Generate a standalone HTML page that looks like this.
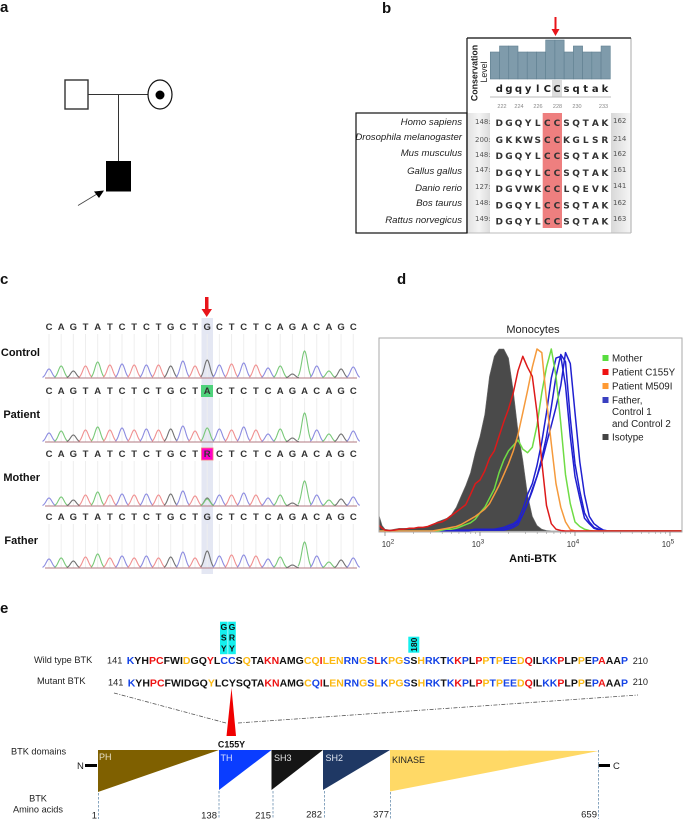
<!DOCTYPE html>
<html lang="en">
<head>
<meta charset="utf-8">
<title>BTK figure</title>
<style>
html,body{margin:0;padding:0;background:#fff;}
svg{display:block;font-family:"Liberation Sans",Arial,sans-serif;filter:blur(0.3px);}
.panel{font-size:15px;font-weight:700;fill:#111;}
.sp{font-size:9.6px;font-style:italic;text-anchor:end;fill:#222;}
.aa{font-family:"DejaVu Sans",sans-serif;font-size:9px;font-weight:700;fill:#333;text-anchor:middle;}
.num{font-family:"DejaVu Sans",sans-serif;font-size:7px;fill:#555;}
.base{font-size:9.5px;font-weight:700;fill:#333;text-anchor:middle;}
.row-label{font-size:11px;font-weight:700;fill:#111;text-anchor:end;}
.leg{font-size:9.8px;fill:#222;}
.seq{font-size:10.5px;font-weight:700;}
.b{fill:#1443e6;}.r{fill:#ee1111;}.y{fill:#fcb912;}.k{fill:#111;}
.lab{font-size:9.2px;fill:#222;}
.dom{font-size:9px;}
.tick-aa{font-size:9.5px;fill:#222;text-anchor:end;}
</style>
</head>
<body>
<svg id="fig" xmlns="http://www.w3.org/2000/svg" width="683" height="819" viewBox="0 0 683 819">
<rect x="0" y="0" width="683" height="819" fill="#fff"/>

<!-- Panel a -->
<text class="panel" x="0" y="12">a</text>
<g>
  <line x1="88" y1="94.5" x2="148" y2="94.5" stroke="#333" stroke-width="1"/>
  <line x1="118.5" y1="94.5" x2="118.5" y2="161" stroke="#333" stroke-width="1"/>
  <rect x="65" y="80" width="23" height="29" fill="#fff" stroke="#333" stroke-width="1.4"/>
  <ellipse cx="160" cy="94.5" rx="12" ry="14.5" fill="#fff" stroke="#111" stroke-width="1.2"/>
  <circle cx="160" cy="95" r="4.5" fill="#000"/>
  <rect x="106" y="161" width="25" height="30.5" fill="#000"/>
  <line x1="78" y1="205.5" x2="97" y2="194" stroke="#444" stroke-width="0.8"/>
  <polygon points="104,190.5 94,191.5 99,198" fill="#000"/>
</g>

<!-- Panel b -->
<text class="panel" x="382" y="13">b</text>
<g>
  <defs>
    <linearGradient id="bandL" x1="0" x2="1" y1="0" y2="0"><stop offset="0" stop-color="#e2e2e2"/><stop offset="0.5" stop-color="#f4f4f4"/><stop offset="1" stop-color="#dcdcdc"/></linearGradient>
    <linearGradient id="bandR" x1="0" x2="1" y1="0" y2="0"><stop offset="0" stop-color="#d8d8d8"/><stop offset="1" stop-color="#f6f6f6"/></linearGradient>
  </defs>
  <rect x="468" y="113" width="22" height="120" fill="url(#bandL)"/>
  <rect x="611" y="113" width="20" height="120" fill="url(#bandR)"/>
  <rect x="552" y="80" width="10" height="17" fill="#dcdcdc"/>
  <rect x="542.7" y="113" width="19.3" height="115" fill="#ee7f7f"/>
  <g id="conservationBars"></g>
  <text font-size="8.8" fill="#222" font-weight="700" text-anchor="middle" transform="translate(477.5 73) rotate(-90)">Conservation</text>
  <text font-size="8.8" fill="#222" text-anchor="middle" transform="translate(487 72) rotate(-90)">Level</text>
  <text font-family="DejaVu Sans" font-size="10" font-weight="700" fill="#222" text-anchor="middle" x="499.3 508.9 518.5 528.1 537.7 547.3 556.9 566.5 576.1 585.7 595.3 604.9" y="92">dgqylCCsqtak</text>
  <line x1="490" y1="97" x2="611" y2="97" stroke="#bbb" stroke-width="1"/>
  <g font-size="5.5" fill="#888" text-anchor="middle">
    <text x="502" y="108">222</text><text x="519" y="108">224</text><text x="538" y="108">226</text><text x="557.5" y="108">228</text><text x="577" y="108">230</text><text x="603.5" y="108">233</text>
  </g>
  <g>
    <text class="sp" x="462" y="125">Homo sapiens</text>
    <text class="sp" x="462" y="140">Drosophila melanogaster</text>
    <text class="sp" x="462" y="156">Mus musculus</text>
    <text class="sp" x="462" y="174">Gallus gallus</text>
    <text class="sp" x="462" y="191">Danio rerio</text>
    <text class="sp" x="462" y="206">Bos taurus</text>
    <text class="sp" x="462" y="223">Rattus norvegicus</text>
  </g>
  <g>
    <text class="num" x="475" y="124">148:</text><text class="num" x="475" y="142">200:</text><text class="num" x="475" y="157">148:</text><text class="num" x="475" y="172">147:</text><text class="num" x="475" y="189">127:</text><text class="num" x="475" y="205">148:</text><text class="num" x="475" y="221">149:</text>
  </g>
  <g>
    <text class="num" x="613" y="123">162</text><text class="num" x="613" y="141">214</text><text class="num" x="613" y="156">162</text><text class="num" x="613" y="172">161</text><text class="num" x="613" y="188">141</text><text class="num" x="613" y="205">162</text><text class="num" x="613" y="221">163</text>
  </g>
  <g>
    <text class="aa" y="126" x="499.3 508.9 518.5 528.1 537.7 547.3 556.9 566.5 576.1 585.7 595.3 604.9">DGQYLCCSQTAK</text>
    <text class="aa" y="143" x="499.3 508.9 518.5 528.1 537.7 547.3 556.9 566.5 576.1 585.7 595.3 604.9">GKKWSCCKGLSR</text>
    <text class="aa" y="159" x="499.3 508.9 518.5 528.1 537.7 547.3 556.9 566.5 576.1 585.7 595.3 604.9">DGQYLCCSQTAK</text>
    <text class="aa" y="176" x="499.3 508.9 518.5 528.1 537.7 547.3 556.9 566.5 576.1 585.7 595.3 604.9">DGQYLCCSQTAK</text>
    <text class="aa" y="192" x="499.3 508.9 518.5 528.1 537.7 547.3 556.9 566.5 576.1 585.7 595.3 604.9">DGVWKCCLQEVK</text>
    <text class="aa" y="208.5" x="499.3 508.9 518.5 528.1 537.7 547.3 556.9 566.5 576.1 585.7 595.3 604.9">DGQYLCCSQTAK</text>
    <text class="aa" y="224.5" x="499.3 508.9 518.5 528.1 537.7 547.3 556.9 566.5 576.1 585.7 595.3 604.9">DGQYLCCSQTAK</text>
  </g>
  <line x1="631" y1="38" x2="631" y2="233" stroke="#aaa" stroke-width="1"/>
  <line x1="467" y1="233" x2="631" y2="233" stroke="#bbb" stroke-width="1"/>
  <line x1="467" y1="38" x2="631" y2="38" stroke="#333" stroke-width="1.5"/>
  <line x1="467" y1="38" x2="467" y2="233" stroke="#222" stroke-width="1.3"/>
  <rect x="356" y="113" width="111" height="120" fill="none" stroke="#111" stroke-width="1.2"/>
  <polygon points="554.5,17 556.5,17 556.5,29 559.5,29 555.5,36 551.5,29 554.5,29" fill="#e8141a"/>
</g>

<!-- Panel c -->
<text class="panel" x="0" y="284">c</text>
<g>
  <rect x="201.5" y="318" width="11.5" height="256" fill="#e4e7f3"/>
  <rect x="201" y="385" width="12" height="12" fill="#4fd27c"/>
  <rect x="201.5" y="448" width="11.5" height="12" fill="#ff00c8" stroke="#f77" stroke-width="0.8"/>
  <g id="traces"></g>
  <text class="row-label" x="40" y="356">Control</text>
  <text class="row-label" x="40" y="418">Patient</text>
  <text class="row-label" x="40" y="481">Mother</text>
  <text class="row-label" x="38" y="544">Father</text>
  <text class="base" y="330" x="49 61.2 73.3 85.5 97.7 109.9 122 134.2 146.4 158.5 170.7 182.9 195.1 207.2 219.4 231.6 243.7 255.9 268.1 280.2 292.4 304.6 316.7 328.9 341.1 353.3">CAGTATCTCTGCTGCTCTCAGACAGC</text>
  <text class="base" y="394" x="49 61.2 73.3 85.5 97.7 109.9 122 134.2 146.4 158.5 170.7 182.9 195.1 207.2 219.4 231.6 243.7 255.9 268.1 280.2 292.4 304.6 316.7 328.9 341.1 353.3">CAGTATCTCTGCTACTCTCAGACAGC</text>
  <text class="base" y="457" x="49 61.2 73.3 85.5 97.7 109.9 122 134.2 146.4 158.5 170.7 182.9 195.1 207.2 219.4 231.6 243.7 255.9 268.1 280.2 292.4 304.6 316.7 328.9 341.1 353.3">CAGTATCTCTGCTRCTCTCAGACAGC</text>
  <text class="base" y="520" x="49 61.2 73.3 85.5 97.7 109.9 122 134.2 146.4 158.5 170.7 182.9 195.1 207.2 219.4 231.6 243.7 255.9 268.1 280.2 292.4 304.6 316.7 328.9 341.1 353.3">CAGTATCTCTGCTGCTCTCAGACAGC</text>
  <polygon points="205,297 208.5,297 208.5,309 212,309 206.7,317 201.5,309 205,309" fill="#e8141a"/>
</g>

<!-- Panel d -->
<text class="panel" x="397" y="284">d</text>
<g>
  <text x="533" y="333" font-size="11" fill="#222" text-anchor="middle">Monocytes</text>
  <clipPath id="plotClip"><rect x="379" y="338" width="303" height="194"/></clipPath>
  <g id="histogram" clip-path="url(#plotClip)"></g>
  <rect x="379" y="338" width="303" height="194" fill="none" stroke="#aaa" stroke-width="1"/>
  <g id="histTicks"></g>
  <text x="533" y="562" font-size="11" font-weight="700" fill="#111" text-anchor="middle">Anti-BTK</text>
  <g>
    <rect x="602.5" y="355" width="6" height="6" fill="#58dd3f"/>
    <text class="leg" x="612" y="361.5">Mother</text>
    <rect x="602.5" y="369" width="6" height="6" fill="#ee1111"/>
    <text class="leg" x="612" y="375.5">Patient C155Y</text>
    <rect x="602.5" y="383" width="6" height="6" fill="#ff9a33"/>
    <text class="leg" x="612" y="389.5">Patient M509I</text>
    <rect x="602.5" y="397" width="6" height="6" fill="#3a3fc0"/>
    <text class="leg" x="612" y="403.5">Father,</text>
    <text class="leg" x="612" y="415">Control 1</text>
    <text class="leg" x="612" y="427">and Control 2</text>
    <rect x="602.5" y="434" width="6" height="6" fill="#444"/>
    <text class="leg" x="612" y="440.5">Isotype</text>
  </g>
</g>

<!-- Panel e -->
<text class="panel" x="0" y="613">e</text>
<g>
  <rect x="220" y="621.7" width="7.6" height="32.5" fill="#14f0ee"/>
  <rect x="228.2" y="621.7" width="7.6" height="32.5" fill="#14f0ee"/>
  <g font-size="8.6" font-weight="700" fill="#111" text-anchor="middle">
    <text x="223.8" y="630">G</text><text x="232" y="630">G</text>
    <text x="223.8" y="640.5">S</text><text x="232" y="640.5">R</text>
    <text x="223.8" y="651.5">Y</text><text x="232" y="651.5">Y</text>
  </g>
  <rect x="408.3" y="636.7" width="11" height="16" fill="#14f0ee"/>
  <text font-size="8.6" font-weight="700" fill="#111" text-anchor="middle" transform="translate(417 644.7) rotate(-90)">180</text>

  <text class="lab" x="34" y="663">Wild type BTK</text>
  <text class="lab" x="37" y="684">Mutant BTK</text>
  <text class="lab" x="107" y="663.5">141</text>
  <text class="lab" x="108" y="685.5">141</text>
  <text class="lab" x="632.7" y="664">210</text>
  <text class="lab" x="632.7" y="685">210</text>

  <text class="seq" x="126.7" y="664" textLength="501.3" lengthAdjust="spacing"><tspan class="b">K</tspan><tspan class="k">YH</tspan><tspan class="r">PC</tspan><tspan class="k">FWI</tspan><tspan class="y">D</tspan><tspan class="k">GQ</tspan><tspan class="r">Y</tspan><tspan class="k">L</tspan><tspan class="b">CC</tspan><tspan class="k">S</tspan><tspan class="y">Q</tspan><tspan class="k">TA</tspan><tspan class="r">KN</tspan><tspan class="k">AMG</tspan><tspan class="y">CQ</tspan><tspan class="r">I</tspan><tspan class="y">LEN</tspan><tspan class="b">RN</tspan><tspan class="y">G</tspan><tspan class="b">S</tspan><tspan class="r">L</tspan><tspan class="b">K</tspan><tspan class="y">PG</tspan><tspan class="b">S</tspan><tspan class="k">S</tspan><tspan class="y">H</tspan><tspan class="b">RK</tspan><tspan class="k">T</tspan><tspan class="b">K</tspan><tspan class="r">K</tspan><tspan class="b">P</tspan><tspan class="k">L</tspan><tspan class="r">P</tspan><tspan class="y">P</tspan><tspan class="b">T</tspan><tspan class="y">P</tspan><tspan class="b">EE</tspan><tspan class="y">D</tspan><tspan class="r">Q</tspan><tspan class="k">IL</tspan><tspan class="b">KK</tspan><tspan class="r">P</tspan><tspan class="k">LP</tspan><tspan class="y">P</tspan><tspan class="k">E</tspan><tspan class="b">P</tspan><tspan class="r">A</tspan><tspan class="k">AA</tspan><tspan class="b">P</tspan></text>

  <text class="seq" x="127.7" y="686.5" textLength="500.3" lengthAdjust="spacing"><tspan class="b">K</tspan><tspan class="k">YH</tspan><tspan class="r">PC</tspan><tspan class="k">FWIDGQ</tspan><tspan class="y">Y</tspan><tspan class="k">LCYSQTA</tspan><tspan class="r">KN</tspan><tspan class="k">AMG</tspan><tspan class="y">C</tspan><tspan class="b">Q</tspan><tspan class="r">I</tspan><tspan class="k">L</tspan><tspan class="y">EN</tspan><tspan class="b">RN</tspan><tspan class="y">G</tspan><tspan class="b">S</tspan><tspan class="y">L</tspan><tspan class="b">K</tspan><tspan class="y">PG</tspan><tspan class="b">S</tspan><tspan class="k">S</tspan><tspan class="y">H</tspan><tspan class="b">RK</tspan><tspan class="k">T</tspan><tspan class="b">K</tspan><tspan class="r">K</tspan><tspan class="b">P</tspan><tspan class="k">L</tspan><tspan class="r">P</tspan><tspan class="y">P</tspan><tspan class="b">T</tspan><tspan class="y">P</tspan><tspan class="b">EE</tspan><tspan class="y">D</tspan><tspan class="r">Q</tspan><tspan class="k">IL</tspan><tspan class="b">KK</tspan><tspan class="r">P</tspan><tspan class="k">LP</tspan><tspan class="y">P</tspan><tspan class="k">E</tspan><tspan class="b">P</tspan><tspan class="r">A</tspan><tspan class="k">AA</tspan><tspan class="b">P</tspan></text>

  <line x1="114" y1="693" x2="226" y2="723" stroke="#555" stroke-width="0.8" stroke-dasharray="4 1.5 1 1.5"/>
  <line x1="238" y1="723" x2="638" y2="695" stroke="#555" stroke-width="0.8" stroke-dasharray="4 1.5 1 1.5"/>
  <polygon points="231.5,688 236,736 226.5,736" fill="#f00000"/>
  <text x="231.5" y="747.5" font-size="8.9" font-weight="700" fill="#111" text-anchor="middle">C155Y</text>

  <text class="lab" x="11" y="754.5">BTK domains</text>
  <text class="lab" x="38" y="801.5" text-anchor="middle">BTK</text>
  <text class="lab" x="38" y="812.5" text-anchor="middle">Amino acids</text>

  <polygon points="98,750 219,750 98,792" fill="#7f6000"/>
  <polygon points="219,750 271.5,750 219,790" fill="#0a3dff"/>
  <polygon points="271.5,750 323,750 271.5,790" fill="#151515"/>
  <polygon points="323,750 390,750 323,790" fill="#1f3864"/>
  <polygon points="390,750 598.5,751 390,791.5" fill="#ffd966"/>
  <text class="dom" x="99" y="760" fill="#e8e0c8">PH</text>
  <text class="dom" x="220.5" y="761" fill="#d8e0ff">TH</text>
  <text class="dom" x="274" y="761" fill="#e6e6e6">SH3</text>
  <text class="dom" x="325.5" y="761" fill="#dfe5f0">SH2</text>
  <text class="dom" x="392" y="763" fill="#222">KINASE</text>

  <line x1="85" y1="765.5" x2="97" y2="765.5" stroke="#000" stroke-width="3"/>
  <text x="77" y="769" font-size="9.5" fill="#222">N</text>
  <line x1="598.5" y1="765.5" x2="610" y2="765.5" stroke="#000" stroke-width="3"/>
  <text x="613" y="769" font-size="9.5" fill="#222">C</text>

  <g stroke="#6a8fb0" stroke-width="0.8" stroke-dasharray="2.5 1.5">
    <line x1="98.5" y1="793" x2="98.5" y2="819"/>
    <line x1="219" y1="791" x2="219" y2="819"/>
    <line x1="273" y1="791" x2="273" y2="819"/>
    <line x1="324.5" y1="791" x2="324.5" y2="819"/>
    <line x1="390.5" y1="792" x2="390.5" y2="819"/>
    <line x1="598.5" y1="750" x2="598.5" y2="819"/>
  </g>
  <g>
    <text class="tick-aa" x="97" y="818.5">1</text>
    <text class="tick-aa" x="217" y="818.5">138</text>
    <text class="tick-aa" x="271" y="818.5">215</text>
    <text class="tick-aa" x="322" y="817.5">282</text>
    <text class="tick-aa" x="389" y="817.5">377</text>
    <text class="tick-aa" x="597" y="817.5">659</text>
  </g>
</g>

<script>
/* ---------- Conservation bars (panel b) ---------- */
const conservationLevels = [9, 11, 11, 9, 9, 9, 13, 13, 9, 11, 9, 9, 11];

/* ---------- Chromatogram (panel c) ---------- */
const traceBases = ['C','A','G','T','A','T','C','T','C','T','G','C','T','G','C','T','C','T','C','A','G','A','C','A','G','C'];
const controlHeights = [9,12,7,12,16,13,14,13,13,13,12,17,12,18,13,14,15,13,10,12,4,27,12,7,9,11];
const patientHeights = [9,11,7,12,15,12,14,12,13,12,13,16,11,14,13,12,15,12,8,13,4,29,12,8,8,11];
const motherHeights  = [8,9,6,11,14,11,12,11,12,11,12,15,10,8,11,11,13,11,8,11,3,25,11,6,7,9];
const fatherHeights  = [9,10,7,11,14,10,12,10,12,10,11,16,10,17,12,13,13,12,9,11,3,26,12,6,8,10];
const patientVariantBase = 'A';
const motherSecondaryBase = 'A';
const motherSecondaryHeight = 7;

/* ---------- Flow histogram (panel d) ---------- */
const logIntensity = [
  1.94,1.97,2.00,2.05,2.10,2.15,2.20,2.25,2.30,2.35,
  2.40,2.45,2.50,2.55,2.60,2.65,2.70,2.75,2.80,2.85,
  2.90,2.95,3.00,3.05,3.10,3.15,3.20,3.25,3.30,3.35,
  3.40,3.45,3.50,3.55,3.60,3.65,3.70,3.75,3.80,3.85,
  3.90,3.95,4.00,4.05,4.10,4.15,4.20,4.25,4.30,4.35,
  4.40,4.45,5.12];
const isotypeCounts = [
  8,3,1,0.5,1,1.5,1.5,1.5,1.5,2,
  2,2.5,3.5,5,6,7,9,13,19,25,
  32,43,52,64,85,96,100,100,95,77,
  55,39,20,8,3,1,0.3,0,0,0,
  0,0,0,0,0,0,0,0,0,0,
  0,0,0];
const patientC155YCounts = [
  3,1.5,0.5,0.3,0.5,1,1,1.5,1.5,2,
  2,2.5,3.5,4.5,5,6.5,8.5,10.5,12.5,14.5,
  20,26,28,33,40,44,52,60,67,76,
  88,96,90,85,65,38,14,4,1,0.3,
  0,0,0,0,0,0,0,0,0,0,
  0,0,0];
const patientM509ICounts = [
  0,0,0,0,0,0,0,0,0,0,
  0,0,0,0.5,1,1.5,2,2.5,3.5,5,
  6.5,8,10,12,15,20,25,31,37,44,
  53,65,77,90,100,98,72,48,26,13,
  5,0.8,0,0,0,0,0,0,0,0,
  0,0,0];
const motherCounts = [
  0,0,0,0,0,0,0,0,0,0,
  0,0,0,0,0.5,1,1,1.5,2.5,3.5,
  4.5,6.5,10,13,18,23,32,39,44,47,
  50,45,43,46,58,76,90,100,85,59,
  31,15,5,2.5,1,0.3,0,0,0,0,
  0,0,0];
const fatherCounts = [
  0,0,0,0,0,0,0,0,0,0,
  0,0,0,0,0,0,0,0.5,0.5,0.5,
  0.5,1,1,1,1,1,1.5,2,3,4,
  6,12,20,26,36,49,65,84,95,96,
  80,52,30,18,7,4,1.5,0.6,0,0,
  0,0,0];
const control1Counts = [
  0,0,0,0,0,0,0,0,0,0,
  0,0,0,0,0,0,0,0,0,0,
  0.5,1,1,1,1,1,1,1,2,3,
  5,9,15,23,30,40,52,68,85,97,
  93,62,37,22,10,5,2,1,0.3,0,
  0,0,0];
const control2Counts = [
  0,0,0,0,0,0,0,0,0,0,
  0,0,0,0,0,0,0,0,0,0,
  0.3,0.5,0.5,0.5,0.5,0.5,0.5,0.5,1,2,
  3.5,9,15,22,30,38,48,58,68,80,
  98,92,65,38,20,8,4,2,0.5,0,
  0,0,0];
const tickExponents = [2, 3, 4, 5];

const SVGNS = 'http://www.w3.org/2000/svg';
function mk(tag, attrs, parent) {
  const el = document.createElementNS(SVGNS, tag);
  for (const k in attrs) el.setAttribute(k, attrs[k]);
  parent.appendChild(el);
  return el;
}

/* Bars */
const barX = i => 490.3 + i * 9.23;
const barY = v => 79 - v * 3;
const barsGroup = document.getElementById('conservationBars');
conservationLevels.forEach((v, i) => {
  const bar = mk('rect', {x: barX(i), y: barY(v), width: 9.23, height: 79 - barY(v), fill: '#7f9bab', stroke: '#5f7f90', 'stroke-width': 0.6}, barsGroup);
  
  
});

/* Traces */
const baseColor = {A: '#78c878', C: '#8c8ce0', G: '#707070', T: '#f09090'};
const peakX = i => 49 + i * 12.17;
function peakPath(cx, baseline, h) {
  let d = '';
  for (let dx = -6.5; dx <= 6.5; dx += 0.5) {
    const y = baseline - h * Math.exp(-(dx * dx) / (2 * 2.8 * 2.8));
    d += (d ? 'L' : 'M') + (cx + dx).toFixed(2) + ' ' + y.toFixed(2);
  }
  return d;
}
const tracesGroup = document.getElementById('traces');
function drawTrace(name, heights, baseline, top, overrideBase) {
  heights.forEach((h, i) => {
    const grid = mk('line', {x1: peakX(i), x2: peakX(i), y1: top, y2: baseline, stroke: '#eeeeee', 'stroke-width': 1}, tracesGroup);
    
    
  });
  const base = mk('line', {x1: 45, x2: 357, y1: baseline, y2: baseline, stroke: '#b07a80', 'stroke-width': 1}, tracesGroup);
  
  
  heights.forEach((h, i) => {
    const b = (overrideBase && i === 13) ? overrideBase : traceBases[i];
    const peak = mk('path', {d: peakPath(peakX(i), baseline, h), fill: 'none', stroke: baseColor[b], 'stroke-width': 1.1}, tracesGroup);
    
    
  });
}
drawTrace('control', controlHeights, 378, 334);
drawTrace('patient', patientHeights, 442, 398, patientVariantBase);
drawTrace('mother', motherHeights, 506, 461);
drawTrace('father', fatherHeights, 568, 524);
const hetPeak = mk('path', {d: peakPath(peakX(13), 506, motherSecondaryHeight), fill: 'none', stroke: baseColor[motherSecondaryBase], 'stroke-width': 1.1}, tracesGroup);



/* Histogram */
const histX = l => 385 + 95 * (l - 2);
const histY = c => 531 - c * 1.82;
const hist = document.getElementById('histogram');
function linePoints(counts) {
  return counts.map((c, i) => histX(logIntensity[i]).toFixed(1) + ',' + histY(c).toFixed(1)).join(' ');
}
const isoArea = mk('polygon', {points: histX(logIntensity[0]) + ',' + histY(0) + ' ' + linePoints(isotypeCounts) + ' ' + histX(logIntensity[logIntensity.length - 1]) + ',' + histY(0), fill: '#4a4a4a', stroke: '#6a6a6a', 'stroke-width': 0.6}, hist);


function curve(name, counts, color) {
  const c = mk('polyline', {points: linePoints(counts), fill: 'none', stroke: color, 'stroke-width': 1.5, 'stroke-linejoin': 'round'}, hist);
  
  
}
curve('curve-control-2', control2Counts, '#2020d0');
curve('curve-control-1', control1Counts, '#2020d0');
curve('curve-father', fatherCounts, '#2020d0');
curve('curve-mother', motherCounts, '#6fdc45');
curve('curve-patient-m509i', patientM509ICounts, '#f59a3c');
curve('curve-patient-c155y', patientC155YCounts, '#dd1a1a');

const ticksGroup = document.getElementById('histTicks');
tickExponents.forEach(exp => {
  const tx = histX(exp);
  const major = mk('line', {x1: tx, x2: tx, y1: 532, y2: 536, stroke: '#777', 'stroke-width': 0.7}, ticksGroup);
  
  
  if (exp < 5) {
    for (let m = 2; m < 10; m++) {
      const mx = histX(exp + Math.log10(m));
      const minor = mk('line', {x1: mx, x2: mx, y1: 532, y2: 534, stroke: '#999', 'stroke-width': 0.6}, ticksGroup);
      
      
    }
  }
  const lx = Math.max(tx - 2, 388);
  const label = mk('text', {x: lx, y: 547, 'font-size': 8, fill: '#333', 'text-anchor': 'middle'}, ticksGroup);
  
  
  label.textContent = '10';
  const sup = mk('tspan', {dy: -3.5, 'font-size': 6.5}, label);
  sup.textContent = String(exp);
});
</script>
</svg>
</body>
</html>
